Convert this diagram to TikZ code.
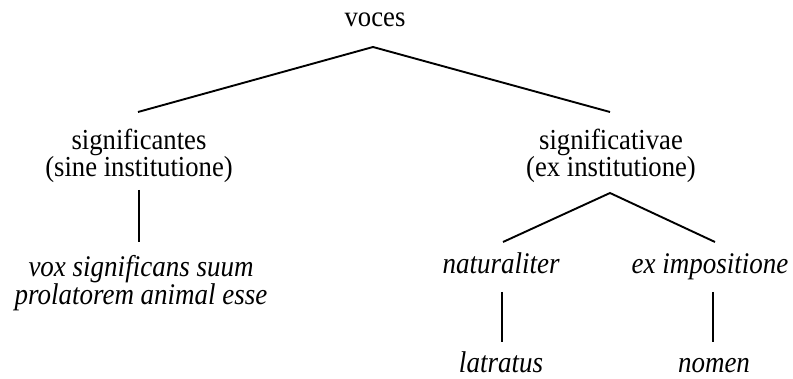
\documentclass[tikz,border=0pt]{standalone}
\usepackage{fontspec}
\setmainfont{Liberation Serif}[UprightFeatures={FakeStretch=0.92},ItalicFeatures={FakeStretch=0.9}]
\begin{document}
\begin{tikzpicture}[x=1pt,y=-1pt,
  lbl/.style={inner sep=0pt,anchor=base,font=\fontsize{29}{27}\selectfont},
  ilbl/.style={lbl,font=\fontsize{30}{27}\selectfont\itshape},
  edge/.style={line width=1.9pt,line cap=butt}]
\useasboundingbox (0,0) rectangle (793,379);
\node[lbl] (voces) at (375,27) {voces};
\node[lbl] (sig) at (139,150) {significantes};
\node[lbl] (sigb) at (139,177) {(sine institutione)};
\node[lbl] (sigv) at (611,150) {significativae};
\node[lbl] (sigvb) at (611,177) {(ex institutione)};
\node[ilbl] (vox) at (141,277) {vox significans suum};
\node[ilbl] (voxb) at (141,305) {prolatorem animal esse};
\node[ilbl] (nat) at (501,274) {naturaliter};
\node[ilbl] (imp) at (710,274) {ex impositione};
\node[ilbl] (lat) at (501,373) {latratus};
\node[ilbl] (nom) at (714,373) {nomen};
\coordinate (a0) at (373,47);
\coordinate (a1) at (138,112);
\coordinate (a2) at (610,112);
\coordinate (b0) at (139,190);
\coordinate (b1) at (139,242);
\coordinate (c0) at (610,193);
\coordinate (c1) at (503,242);
\coordinate (c2) at (715,242);
\coordinate (d0) at (502,292);
\coordinate (d1) at (502,342);
\coordinate (e0) at (713,292);
\coordinate (e1) at (713,342);
\draw[edge] (a1) -- (a0) -- (a2);
\draw[edge] (b0) -- (b1);
\draw[edge] (c1) -- (c0) -- (c2);
\draw[edge] (d0) -- (d1);
\draw[edge] (e0) -- (e1);
\end{tikzpicture}
\end{document}
